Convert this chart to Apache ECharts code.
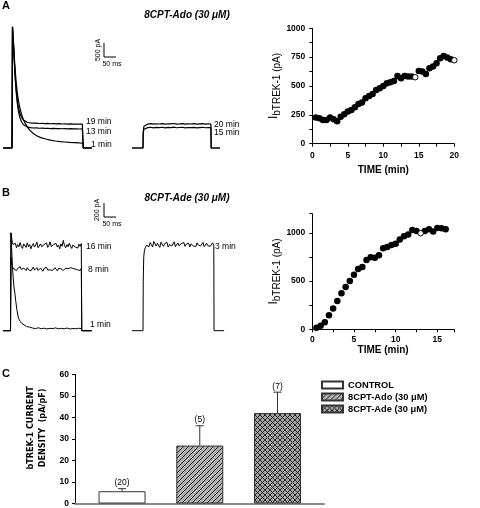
<!DOCTYPE html>
<html><head><meta charset="utf-8">
<script src="https://cdn.jsdelivr.net/npm/echarts@6/dist/echarts.min.js"></script>
<style>html,body{margin:0;padding:0;background:#fff}#c{width:480px;height:508px}</style>
</head><body><div id="c"></div><script>
// ---------------- DATA ----------------
// Panel A time course (8CPT-Ado)
const aTime = [0.5,1,1.5,2,2.5,3,3.5,4,4.5,5,5.5,6,6.5,7,7.5,8,8.5,9,9.5,10,10.5,11,11.5,12,12.5,13,13.5,14,14.5,15,15.5,16,16.5,17,17.5,18,18.5,19,19.5,20];
const aCurrent = [226,220,205,205,226,211,194,234,255,278,292,315,344,356,394,414,431,466,480,501,524,532,544,587,567,587,582,582,576,631,625,605,654,668,697,741,761,747,732,723];
const aOpenAt = [14.5, 20];
// Panel B time course (8CPT-Ade)
const bTime = [0.5,1,1.5,2,2.5,3,3.5,4,4.5,5,5.5,6,6.5,7,7.5,8,8.5,9,9.5,10,10.5,11,11.5,12,12.5,13,13.5,14,14.5,15,15.5,16];
const bCurrent = [17,38,73,145,215,294,374,439,502,567,626,647,720,747,744,768,841,855,875,889,931,965,983,1031,1021,997,1021,1038,1014,1052,1048,1038];
const bOpenAt = [13];
// Panel C bar chart
const categories = ['CONTROL','8CPT-Ado (30 \u03bcM)','8CPT-Ade (30 \u03bcM)'];
const density = [5.7, 26.9, 42.0];
const densitySem = [1.2, 9.2, 9.7];
const nCells = [20, 5, 7];

// Current traces [time ms, current pA]
const trA1 = [[-37,0],[0,0],[2,4330],[6,3800],[10,3200],[14,2700],[18,2300],[22,1980],[27,1680],[33,1420],[40,1200],[47,1030],[55,880],[65,740],[75,630],[90,510],[105,430],[120,370],[140,320],[160,280],[180,250],[200,230],[220,215],[240,200],[260,190],[280,180],[296,175],[297,0],[333,0]];
const trA13 = [[-37,0],[0,0],[2,4330],[6,3700],[10,3000],[14,2400],[18,1950],[22,1600],[27,1300],[33,1080],[40,930],[47,840],[55,780],[65,745],[77,725],[89,715],[101,720],[113,705],[125,712],[137,700],[149,706],[161,695],[173,700],[185,690],[197,696],[209,688],[221,692],[233,684],[245,690],[257,680],[269,686],[281,678],[293,683],[296,680],[297,0],[333,0]];
const trA19 = [[-37,0],[0,0],[2,4330],[6,3720],[10,3050],[14,2480],[18,2040],[22,1720],[27,1440],[33,1230],[40,1090],[47,1000],[55,945],[65,910],[77,895],[89,885],[101,890],[113,875],[125,882],[137,870],[149,878],[161,866],[173,872],[185,860],[197,868],[209,858],[221,864],[233,855],[245,861],[257,852],[269,858],[281,850],[293,856],[296,853],[297,0],[333,0]];
const trA20 = [[-46,0],[0,0],[1,600],[4,780],[8,840],[20,855],[32,870],[44,850],[56,865],[68,858],[80,872],[92,852],[104,866],[116,860],[128,875],[140,855],[152,862],[164,870],[176,850],[188,864],[200,858],[212,868],[224,852],[236,862],[248,870],[260,855],[272,862],[283,858],[284,0],[321,0]];
const trA15 = [[-46,0],[0,0],[1,520],[4,670],[8,715],[20,728],[32,740],[44,722],[56,735],[68,726],[80,742],[92,720],[104,734],[116,728],[128,745],[140,724],[152,732],[164,740],[176,720],[188,733],[200,726],[212,738],[224,722],[236,731],[248,740],[260,724],[272,731],[283,727],[284,0],[321,0]];
const trB1 = [[-31,0],[0,0],[2,1390],[5,1150],[8,930],[11,760],[14,640],[18,540],[22,420],[27,290],[33,180],[40,135],[47,105],[55,80],[67,60],[80,50],[92,38],[104,30],[116,42],[128,28],[140,36],[152,25],[164,34],[176,30],[188,40],[200,26],[212,33],[224,28],[236,38],[248,24],[260,32],[272,28],[284,35],[296,30],[297,0],[338,0]];
const trB16Start = [[-31,0],[0,0],[2,1400],[5,1320],[8,1260],[11,1230]];
const trB16Noise = [1215,1250,1185,1230,1200,1260,1205,1175,1240,1220,1190,1255,1200,1230,1170,1215,1245,1195,1225,1265,1185,1210,1240,1200,1175,1230,1215,1255,1190,1220,1270,1200,1180,1235,1210,1245,1195,1225,1170,1240,1205,1290,1215,1185,1230,1200,1250,1210,1175,1225,1240,1195,1220,1180,1235,1205,1245];
const trB16End = [[297,1230],[297,0],[338,0]];
const trB8Start = [[-31,0],[0,0],[2,1050],[5,960],[8,910]];
const trB8Noise = [880,905,860,890,870,915,875,850,895,885,860,900,870,890,855,880,910,865,885,900,860,875,895,870,850,890,880,905,865,885,870,895,860,880,900,875,855,890,870,885,905,860,880,895,870,885,860,900,875,890,865,880,895,870,885,860,890];
const trB8End = [[297,880],[297,0],[338,0]];
const trB3Start = [[-46,0],[0,0],[1,700],[3,1050],[6,1150],[10,1190]];
const trB3Noise = [1220,1245,1200,1260,1230,1195,1275,1240,1210,1250,1225,1190,1265,1235,1205,1245,1220,1260,1195,1230,1250,1210,1240,1270,1200,1225,1255,1215,1190,1245,1230,1260,1205,1235,1220,1250,1195,1240,1265,1210,1230,1200,1255,1225,1245,1210,1235,1260,1200,1225,1250,1215,1240,1205,1230,1255,1220];
const trB3End = [[296,1225],[296,0],[338,0]];
const noiseT0 = 15, noiseDt = 5; // sampling of plateau (ms)
const scaleA = {pA: 500, ms: 50};
const scaleB = {pA: 200, ms: 50};

// ---------------- LAYOUT ----------------
const FONT = '"Liberation Sans", Arial, sans-serif';
const NARROW = '"Liberation Sans Narrow", "Arial Narrow", "DejaVu Sans Condensed", sans-serif';
const MSPX = 50 / 12;       // ms per pixel
const APX = 500 / 14;       // pA per pixel (A traces)
const BPX = 200 / 14;       // pA per pixel (B traces)

function sampled(start, vals, end) {
  return start.concat(vals.map((v, i) => [noiseT0 + i * noiseDt, v])).concat(end);
}
const trB16 = sampled(trB16Start, trB16Noise, trB16End);
const trB8 = sampled(trB8Start, trB8Noise, trB8End);
const trB3 = sampled(trB3Start, trB3Noise, trB3End);

const pairs = (t, v) => t.map((x, i) => [x, v[i]]);
const aFilled = pairs(aTime, aCurrent).filter(p => !aOpenAt.includes(p[0]));
const aOpen = pairs(aTime, aCurrent).filter(p => aOpenAt.includes(p[0]));
const bFilled = pairs(bTime, bCurrent).filter(p => !bOpenAt.includes(p[0]));
const bOpen = pairs(bTime, bCurrent).filter(p => bOpenAt.includes(p[0]));

// patterns
function tile(cross) {
  const c = document.createElement('canvas');
  const s = 5; c.width = s; c.height = s;
  const g = c.getContext('2d');
  g.fillStyle = cross ? '#a4a4a4' : '#b0b0b0';
  g.fillRect(0, 0, s, s);
  g.strokeStyle = '#1a1a1a'; g.lineWidth = 0.9;
  g.beginPath();
  g.moveTo(-1, s + 1); g.lineTo(s + 1, -1);
  g.moveTo(-1, 1); g.lineTo(1, -1);
  g.moveTo(s - 1, s + 1); g.lineTo(s + 1, s - 1);
  if (cross) {
    g.moveTo(-1, -1); g.lineTo(s + 1, s + 1);
    g.moveTo(s - 1, -1); g.lineTo(s + 1, 1);
    g.moveTo(-1, s - 1); g.lineTo(1, s + 1);
  }
  g.stroke();
  return c;
}
const fills = ['#ffffff', {image: tile(false), repeat: 'repeat'}, {image: tile(true), repeat: 'repeat'}];

const hiddenX = (gi, t0px, w) => ({type: 'value', gridIndex: gi, show: false, min: -t0px * MSPX, max: (w - t0px) * MSPX});
const hiddenY = (gi, basePx, h, k) => ({type: 'value', gridIndex: gi, show: false, min: -(h - basePx) * k, max: basePx * k});

const traceSeries = (data, xi, w) => ({type: 'line', xAxisIndex: xi, yAxisIndex: xi, data, symbol: 'none', silent: true,
  lineStyle: {color: '#000', width: w}, animation: false, z: 3});

const txt = (text, x, y, o = {}) => ({type: 'text', x, y, rotation: o.rot || 0, silent: true,
  style: {text, fill: '#000', align: o.align || 'left', verticalAlign: o.va || 'middle',
    font: (o.style || '') + ' ' + (o.weight || 'normal') + ' ' + (o.size || 8.5) + 'px ' + (o.family || FONT)}});

const plain = v => String(v);
const axisCommon = {
  axisLine: {show: true, onZero: false, lineStyle: {color: '#000', width: 1}},
  axisTick: {show: true, inside: false, length: 3, lineStyle: {color: '#000'}},
  minorTick: {show: true, splitNumber: 2, length: 3, lineStyle: {color: '#000'}},
  splitLine: {show: false},
  axisLabel: {color: '#000', fontFamily: FONT, fontWeight: 'bold', fontSize: 8.5, formatter: plain}
};
const yNameRich = {
  i: {fontSize: 12, fontFamily: FONT, lineHeight: 12, verticalAlign: 'top', color: '#000'},
  s: {fontSize: 10, fontFamily: FONT, lineHeight: 15, verticalAlign: 'bottom', color: '#000'}
};

const option = {
  animation: false,
  backgroundColor: '#fff',
  grid: [
    {left: 0, top: 20, width: 130, height: 140},
    {left: 130, top: 20, width: 110, height: 140},
    {left: 0, top: 195, width: 130, height: 150},
    {left: 130, top: 195, width: 110, height: 150},
    {left: 312.3, top: 28.3, width: 142, height: 115.4},
    {left: 312.3, top: 213.7, width: 141.7, height: 115.6},
    {left: 75, top: 374.3, width: 249, height: 130}
  ],
  xAxis: [
    hiddenX(0, 12, 130), hiddenX(1, 13, 110), hiddenX(2, 10.5, 130), hiddenX(3, 13, 110),
    Object.assign({}, axisCommon, {type: 'value', gridIndex: 4, min: 0, max: 20, interval: 5,
      axisLabel: Object.assign({}, axisCommon.axisLabel, {margin: 7}),
      name: 'TIME (min)', nameLocation: 'middle', nameGap: 22,
      nameTextStyle: {fontFamily: FONT, fontWeight: 'bold', fontSize: 10, color: '#000'}}),
    Object.assign({}, axisCommon, {type: 'value', gridIndex: 5, min: 0, max: 17, interval: 5,
      axisLabel: Object.assign({}, axisCommon.axisLabel, {margin: 6, showMaxLabel: false}),
      name: 'TIME (min)', nameLocation: 'middle', nameGap: 16,
      nameTextStyle: {fontFamily: FONT, fontWeight: 'bold', fontSize: 10, color: '#000'}}),
    {type: 'value', gridIndex: 6, min: -0.605, max: 2.598, axisLine: {show: true, onZero: false, lineStyle: {color: '#8a8a8a', width: 2}},
      axisTick: {show: false}, axisLabel: {show: false}, splitLine: {show: false}}
  ],
  yAxis: [
    hiddenY(0, 128, 140, APX), hiddenY(1, 128, 140, APX), hiddenY(2, 135.7, 150, BPX), hiddenY(3, 135.7, 150, BPX),
    Object.assign({}, axisCommon, {type: 'value', gridIndex: 4, min: 0, max: 1000, interval: 250,
      axisLabel: Object.assign({}, axisCommon.axisLabel, {margin: 7}),
      name: '{i|I}{s|bTREK-1 (pA)}', nameLocation: 'middle', nameRotate: 90, nameGap: 13,
      nameTextStyle: {rich: yNameRich}}),
    Object.assign({}, axisCommon, {type: 'value', gridIndex: 5, min: 0, max: 1200, interval: 500,
      axisLabel: Object.assign({}, axisCommon.axisLabel, {margin: 7, showMaxLabel: false}),
      name: '{i|I}{s|bTREK-1 (pA)}', nameLocation: 'middle', nameRotate: 90, nameGap: 13,
      nameTextStyle: {rich: yNameRich}}),
    {type: 'value', gridIndex: 6, min: 0, max: 60, interval: 10,
      axisLine: {show: true, onZero: false, lineStyle: {color: '#000', width: 1}},
      axisTick: {show: true, length: 3, lineStyle: {color: '#000'}}, splitLine: {show: false},
      axisLabel: {color: '#000', fontFamily: FONT, fontWeight: 'bold', fontSize: 8.5, margin: 6},
      name: 'bTREK-1 CURRENT\nDENSITY  (pA/pF)', nameLocation: 'middle', nameRotate: 90, nameGap: 15,
      nameTextStyle: {fontFamily: NARROW, fontWeight: 'bold', fontSize: 9, lineHeight: 12, color: '#000', padding: [0, 0, 0, 22]}}
  ],
  legend: {
    orient: 'vertical', left: 321, top: 380.5, itemWidth: 21, itemHeight: 7, itemGap: 3, icon: 'rect', padding: 0,
    selectedMode: false,
    textStyle: {fontFamily: FONT, fontWeight: 'bold', fontSize: 9.3, color: '#000'},
    data: categories
  },
  series: [
    traceSeries(trA1, 0, 1.2), traceSeries(trA13, 0, 1.2), traceSeries(trA19, 0, 1.2),
    traceSeries([[383.3, 3250 + scaleA.pA], [383.3, 3250], [383.3 + scaleA.ms, 3250]], 0, 1),
    traceSeries(trA20, 1, 1.2), traceSeries(trA15, 1, 1.2),
    traceSeries(trB1, 2, 1), traceSeries(trB16, 2, 1), traceSeries(trB8, 2, 1),
    traceSeries([[389.6, 1624 + scaleB.pA], [389.6, 1624], [389.6 + scaleB.ms, 1624]], 2, 1),
    traceSeries(trB3, 3, 1),
    {type: 'scatter', xAxisIndex: 4, yAxisIndex: 4, data: aFilled, symbol: 'circle', symbolSize: 6.5, itemStyle: {color: '#000', opacity: 1}},
    {type: 'scatter', xAxisIndex: 4, yAxisIndex: 4, data: aOpen, symbol: 'circle', symbolSize: 5.5, itemStyle: {color: '#fff', borderColor: '#000', borderWidth: 1, opacity: 1}},
    {type: 'scatter', xAxisIndex: 5, yAxisIndex: 5, data: bFilled, symbol: 'circle', symbolSize: 6.5, itemStyle: {color: '#000', opacity: 1}},
    {type: 'scatter', xAxisIndex: 5, yAxisIndex: 5, data: bOpen, symbol: 'circle', symbolSize: 5.5, itemStyle: {color: '#fff', borderColor: '#000', borderWidth: 1, opacity: 1}},
  ].concat(categories.map((name, i) => ({
    type: 'bar', name, xAxisIndex: 6, yAxisIndex: 6, barWidth: 47, barGap: '-100%',
    data: [[i, density[i]]],
    itemStyle: {color: fills[i], borderColor: '#333', borderWidth: 1}
  }))).concat([{
    type: 'custom', xAxisIndex: 6, yAxisIndex: 6, z: 5,
    data: density.map((m, i) => [i, m, densitySem[i], nCells[i]]),
    encode: {x: 0, y: 1},
    renderItem: (params, api) => {
      const base = api.coord([api.value(0), api.value(1)]);
      const tip = api.coord([api.value(0), api.value(1) + api.value(2)]);
      const st = {stroke: '#333', lineWidth: 1};
      return {type: 'group', children: [
        {type: 'line', shape: {x1: base[0], y1: base[1], x2: tip[0], y2: tip[1]}, style: st},
        {type: 'line', shape: {x1: tip[0] - 4, y1: tip[1], x2: tip[0] + 4, y2: tip[1]}, style: st},
        {type: 'text', x: tip[0], y: tip[1] - 6, style: {text: '(' + api.value(3) + ')', align: 'center', verticalAlign: 'middle',
          font: 'normal 8.5px ' + FONT, fill: '#000'}}
      ]};
    }
  }]),
  graphic: [
    txt('A', 2, 6, {weight: 'bold', size: 11}),
    txt('B', 2, 193, {weight: 'bold', size: 11}),
    txt('C', 2, 374, {weight: 'bold', size: 11}),
    txt('8CPT-Ado (30 \u03bcM)', 187, 15, {weight: 'bold', style: 'italic', size: 10, align: 'center'}),
    txt('8CPT-Ade (30 \u03bcM)', 187, 198, {weight: 'bold', style: 'italic', size: 10, align: 'center'}),
    txt('500 pA', 98, 50, {rot: Math.PI / 2, size: 7, align: 'center'}),
    txt('50 ms', 112, 64, {size: 7, align: 'center'}),
    txt('200 pA', 97, 210, {rot: Math.PI / 2, size: 7, align: 'center'}),
    txt('50 ms', 112, 224, {size: 7, align: 'center'}),
    txt('19 min', 86, 122), txt('13 min', 86, 132), txt('1 min', 91, 145),
    txt('20 min', 214, 125), txt('15 min', 214, 133),
    txt('16 min', 86, 247), txt('8 min', 88, 270), txt('1 min', 90, 325), txt('3 min', 215, 247)
  ]
};
const chart = echarts.init(document.getElementById('c'), null, {renderer: 'canvas'});
chart.setOption(option);
</script></body></html>
